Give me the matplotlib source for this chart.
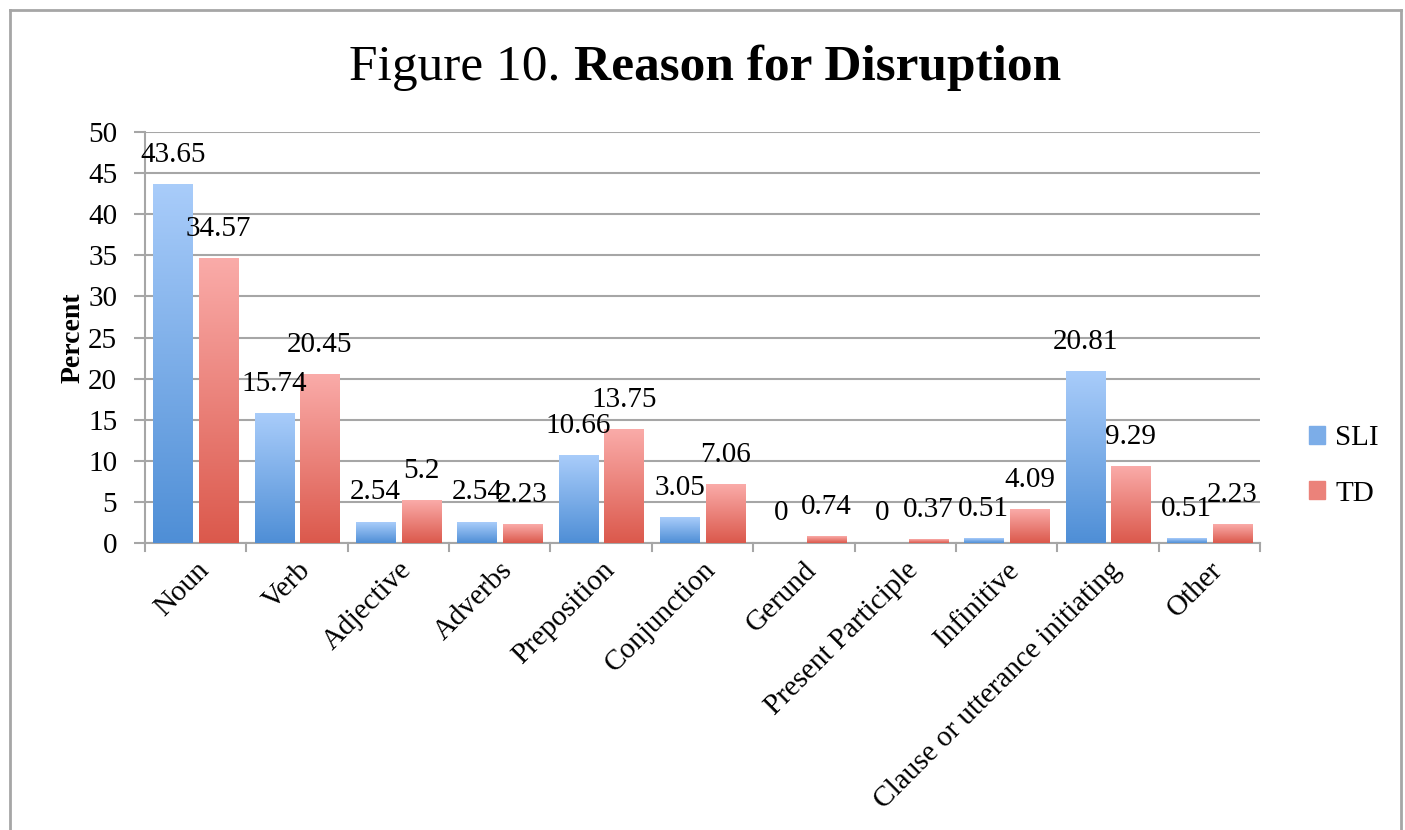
import matplotlib.pyplot as plt
import matplotlib.lines as mlines
import matplotlib.patches as mpatches
import numpy as np

categories = ['Noun', 'Verb', 'Adjective', 'Adverbs', 'Preposition', 'Conjunction',
              'Gerund', 'Present Participle', 'Infinitive',
              'Clause or utterance initiating', 'Other']
sli = [43.65, 15.74, 2.54, 2.54, 10.66, 3.05, 0, 0, 0.51, 20.81, 0.51]
td = [34.57, 20.45, 5.2, 2.23, 13.75, 7.06, 0.74, 0.37, 4.09, 9.29, 2.23]
yticks = list(range(0, 51, 5))

plt.rcParams['font.family'] = ['Liberation Serif', 'DejaVu Serif']

fig = plt.figure(figsize=(14.05, 8.3), dpi=100)
ax = fig.add_axes([145 / 1405, 1 - 543 / 830, (1260 - 145) / 1405, (543 - 132) / 830])

grey = '#a6a6a6'
blue_top, blue_bot = np.array([0.66, 0.80, 0.98]), np.array([0.31, 0.56, 0.84])
red_top, red_bot = np.array([0.98, 0.67, 0.66]), np.array([0.86, 0.35, 0.30])


def gradient_bars(rects, top, bot):
    for r in rects:
        h = r.get_height()
        if h <= 0:
            continue
        x0, w = r.get_x(), r.get_width()
        g = np.linspace(0, 1, 64)[:, None, None]
        img = top + (bot - top) * g
        img = np.repeat(img, 2, axis=1)
        ax.imshow(img, extent=(x0, x0 + w, 0, h), origin='upper',
                  aspect='auto', zorder=3, interpolation='bilinear')
        r.set_visible(False)


x = np.arange(len(categories))
w = 0.385
off = 0.225
b1 = ax.bar(x - off, sli, w, zorder=3)
b2 = ax.bar(x + off, td, w, zorder=3)
gradient_bars(b1, blue_top, blue_bot)
gradient_bars(b2, red_top, red_bot)

for xs, vals in ((x - off, sli), (x + off, td)):
    for xi, v in zip(xs, vals):
        ax.annotate(f'{v:g}', (xi, v), xytext=(0, 12), textcoords='offset points',
                    ha='center', va='bottom', fontsize=21, zorder=5)

ax.set_xlim(-0.5, len(categories) - 0.5)
ax.set_ylim(0, 50)
ax.set_yticks(yticks)
ax.tick_params(axis='y', labelsize=21, length=8, color=grey, width=1.5, pad=12)
ax.set_xticks(x)
ax.set_xticklabels(categories, rotation=45, ha='right', va='top',
                   rotation_mode='anchor', fontsize=21)
ax.tick_params(axis='x', length=0, pad=10)
# category separators below the axis
for b in np.arange(len(categories) + 1) - 0.5:
    ax.plot([b, b], [0, -0.02], transform=ax.get_xaxis_transform(),
            color=grey, lw=1.5, clip_on=False)

ax.grid(axis='y', color=grey, lw=1.5, zorder=0)
ax.set_axisbelow(True)
for s in ['top', 'right']:
    ax.spines[s].set_visible(False)
for s in ['left', 'bottom']:
    ax.spines[s].set_color(grey)
    ax.spines[s].set_linewidth(1.5)

ax.set_ylabel('Percent', fontsize=20, fontweight='bold', labelpad=2)

handles = [mpatches.Patch(color=(blue_top + blue_bot) / 2, label='SLI'),
           mpatches.Patch(color=(red_top + red_bot) / 2, label='TD')]
fig.legend(handles=handles, loc='center left', bbox_to_anchor=(1309 / 1405, 1 - 466 / 830),
           frameon=False, fontsize=21, handlelength=0.55, handleheight=0.55,
           handletextpad=0.35, labelspacing=1.0, borderpad=0, borderaxespad=0)

# title in two weights, centred as one line
t1 = fig.text(0, 1 - 68 / 830, 'Figure 10. ', fontsize=37, va='center', ha='left')
t2 = fig.text(0, 1 - 68 / 830, 'Reason for Disruption', fontsize=37,
              fontweight='bold', va='center', ha='left')
fig.canvas.draw()
r = fig.canvas.get_renderer()
w1 = t1.get_window_extent(r).width
w2 = t2.get_window_extent(r).width
x0 = 705 - (w1 + w2) / 2
t1.set_x(x0 / 1405)
t2.set_x((x0 + w1) / 1405)

# outer frame
for xs, ys in (([10, 10], [10, 830]), ([10, 1401], [10, 10]), ([1401, 1401], [10, 830])):
    fig.add_artist(mlines.Line2D([v / 1405 for v in xs], [1 - v / 830 for v in ys],
                                 color=grey, lw=2))

fig.savefig('out.png', dpi=100)
